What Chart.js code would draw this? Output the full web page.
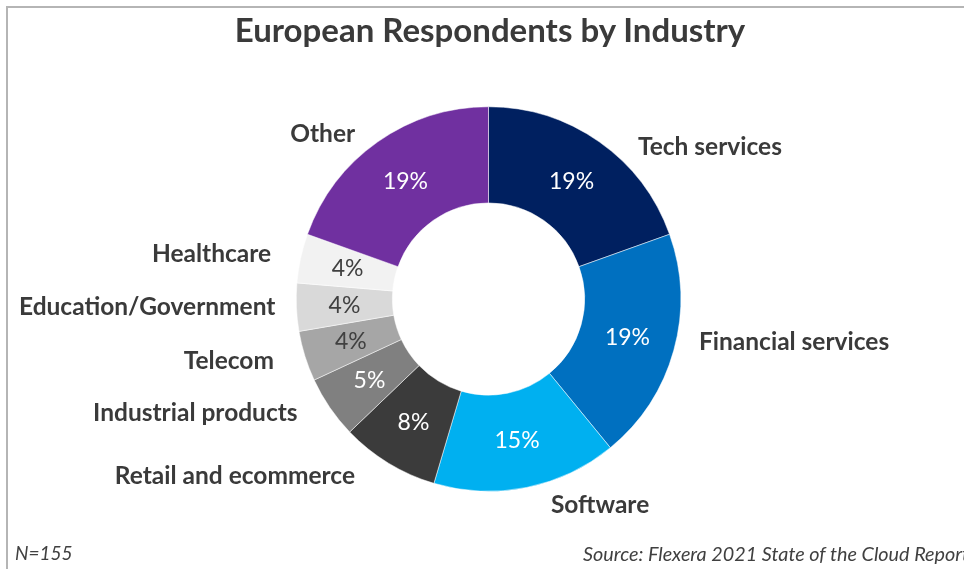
<!DOCTYPE html>
<html>
<head>
<meta charset="utf-8">
<script src="https://cdn.jsdelivr.net/npm/chart.js@4.4.0/dist/chart.umd.min.js"></script>
<style>
  html, body { margin: 0; padding: 0; background: #fff; overflow: hidden; }
  body { width: 964px; height: 569px; position: relative; font-family: Lato, "Noto Sans", sans-serif; color: #404040; }
  #frame { position: absolute; left: 6px; top: 6px; right: -10px; bottom: -10px; border-top: 2px solid #b5b5b5; border-left: 2px solid #b5b5b5; }
  #title { position: absolute; left: 0; top: 9px; width: 980px; text-align: center; font-weight: bold; font-size: 33px; line-height: 40px; color: #3a3a3a; }
  #chartWrap { position: absolute; left: 0; top: 0; }
  .foot { position: absolute; top: 542px; font-style: italic; font-size: 19px; line-height: 22px; white-space: nowrap; }
  #n { left: 15px; }
  #src { left: 583px; font-size: 19.8px; }
</style>
</head>
<body>
<div id="frame"></div>
<div id="chartWrap"><canvas id="chartIndustry" width="964" height="569"></canvas></div>
<div id="title">European Respondents by Industry</div>
<div class="foot" id="n">N=155</div>
<div class="foot" id="src">Source: Flexera 2021 State of the Cloud Report</div>
<script>
// Dados: participação (%) por setor
const industries = ['Tech services', 'Financial services', 'Software', 'Retail and ecommerce',
  'Industrial products', 'Telecom', 'Education/Government', 'Healthcare', 'Other'];
const shares = [19.4, 19.4, 15.4, 8.2, 5.2, 4.2, 4.0, 4.1, 19.4];

const sliceColors = ['#002060', '#0070C0', '#00B0F0', '#3B3B3B', '#808080',
  '#A6A6A6', '#D9D9D9', '#F2F2F2', '#7030A0'];
const pctColors = ['#fff', '#fff', '#fff', '#fff', '#fff', '#404040', '#404040', '#404040', '#fff'];
// ajuste fino dos nomes (px), como foram arrastados no original
const labelNudge = [[16, 23], [-6, -14], [10, -4], [-12, -6], [-4, -7], [0, -2], [11, -1], [2, 1], [0, 10]];

// Rótulos: percentual dentro da fatia, nome do setor fora
const sliceLabels = {
  id: 'sliceLabels',
  afterDatasetsDraw(chart) {
    const ctx = chart.ctx;
    const meta = chart.getDatasetMeta(0);
    ctx.save();
    ctx.textBaseline = 'middle';
    meta.data.forEach((arc, i) => {
      const p = arc.getProps(['x', 'y', 'startAngle', 'endAngle', 'innerRadius', 'outerRadius'], true);
      const mid = (p.startAngle + p.endAngle) / 2;
      const cos = Math.cos(mid), sin = Math.sin(mid);
      const rMid = (p.innerRadius + p.outerRadius) / 2;

      ctx.font = '23px Lato';
      ctx.fillStyle = pctColors[i];
      ctx.textAlign = 'center';
      ctx.fillText(Math.round(shares[i]) + '%', p.x + cos * rMid, p.y + sin * rMid);

      const r = p.outerRadius + 22;
      let lx = p.x + cos * r + labelNudge[i][0];
      const ly = p.y + sin * r + labelNudge[i][1];
      ctx.font = 'bold 24.5px Lato';
      ctx.fillStyle = '#3a3a3a';
      if (cos > 0.1) { ctx.textAlign = 'left'; lx += 10; }
      else if (cos < -0.1) { ctx.textAlign = 'right'; lx -= 10; }
      else ctx.textAlign = 'center';
      ctx.fillText(industries[i], lx, ly);
    });
    ctx.restore();
  }
};

const ctxIndustry = document.getElementById('chartIndustry').getContext('2d');
const chartIndustry = new Chart(ctxIndustry, {
  type: 'doughnut',
  data: {
    labels: industries,
    datasets: [{
      data: shares,
      backgroundColor: sliceColors,
      borderColor: '#ffffff',
      borderWidth: 0.5,
      hoverOffset: 0
    }]
  },
  options: {
    responsive: false,
    animation: false,
    cutout: '50%',
    layout: { padding: { left: 296, right: 283, top: 106, bottom: 77 } },
    plugins: {
      legend: { display: false },
      tooltip: { enabled: false }
    }
  },
  plugins: [sliceLabels]
});
</script>
</body>
</html>
